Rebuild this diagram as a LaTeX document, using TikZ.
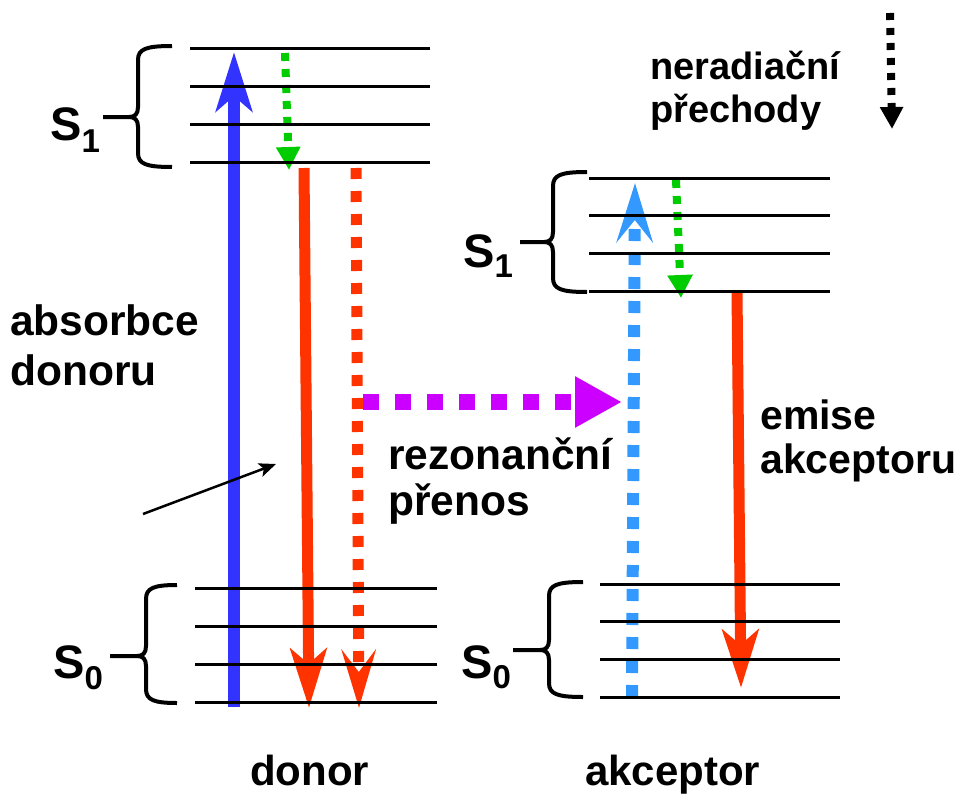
\documentclass[tikz,border=0pt]{standalone}
\usepackage{fontspec}
\setmainfont{Liberation Sans}
\usetikzlibrary{arrows.meta}
\definecolor{cblue}{RGB}{51,51,255}
\definecolor{cred}{RGB}{255,51,0}
\definecolor{cgreen}{RGB}{0,204,0}
\definecolor{cmag}{RGB}{204,0,255}
\definecolor{clblue}{RGB}{51,153,255}
\newcommand{\levbrace}[6]{% xr, xv, xs, yt, ym, yb
  \draw[bracestyle] (#1,#4) .. controls ({#2+8},#4) and (#2,{#4+3}) .. (#2,{#4+14})
    -- (#2,{#5-10}) .. controls (#2,{#5-3}) and ({#2-3},#5) .. ({#2-9},#5) -- (#3,#5);
  \draw[bracestyle] ({#2-9},#5) .. controls ({#2-3},#5) and (#2,{#5+3}) .. (#2,{#5+10})
    -- (#2,{#6-14}) .. controls (#2,{#6-3}) and ({#2+8},#6) .. (#1,#6);
}
\begin{document}
\begin{tikzpicture}[x=1pt,y=-1pt,
  level/.style={line width=3pt},
  bracestyle/.style={line width=4pt, line join=round},
  lbl/.style={font=\fontsize{42}{50}\selectfont\bfseries, inner sep=0pt, align=left, anchor=north west},
  slbl/.style={font=\fontsize{47}{47}\selectfont\bfseries, inner sep=0pt, anchor=base west},
]
\useasboundingbox (0,0) rectangle (965,797);

% ---------- arrows ----------
\coordinate (absS) at (234,707);
\coordinate (absE) at (234,52);
\draw[cblue, line width=12pt, -{Stealth[length=59pt,width=36pt,inset=15pt]}] (absS) -- (absE);

\coordinate (gdS) at (285,53);
\coordinate (gdE) at (289,170);
\draw[cgreen, line width=8pt, dash pattern=on 8pt off 8pt, -{Triangle[length=23pt,width=23pt]}] (gdS) -- (gdE);

\coordinate (rdS) at (304,168);
\coordinate (rdE) at (309,708);
\draw[cred, line width=11pt, -{Stealth[length=59pt,width=36pt,inset=15pt]}] (rdS) -- (rdE);

\coordinate (rtS) at (356,168);
\coordinate (rtE) at (359,708);
\draw[cred, line width=11pt, dash pattern=on 11pt off 12pt, -{Stealth[length=58pt,width=34pt,inset=22pt]}] (rtS) -- (rtE);

\coordinate (mgS) at (363,402);
\coordinate (mgE) at (622,402);
\draw[cmag, line width=16pt, dash pattern=on 16pt off 16pt, -{Triangle[length=47pt,width=48pt]}] (mgS) -- (mgE);

\coordinate (baS) at (632,697);
\coordinate (baE) at (635,183);
\draw[clblue, line width=12pt, dash pattern=on 12pt off 12pt, -{Stealth[length=59pt,width=36pt,inset=22pt]}] (baS) -- (baE);

\coordinate (gaS) at (676,180);
\coordinate (gaE) at (681,298);
\draw[cgreen, line width=8pt, dash pattern=on 8pt off 8pt, -{Triangle[length=23pt,width=24pt]}] (gaS) -- (gaE);

\coordinate (raS) at (737,292);
\coordinate (raE) at (741,688);
\draw[cred, line width=11pt, -{Stealth[length=58pt,width=36pt,inset=15pt]}] (raS) -- (raE);

\coordinate (lgS) at (890,13);
\coordinate (lgE) at (892,129);
\draw[black, line width=8pt, dash pattern=on 7pt off 8pt, -{Triangle[length=22pt,width=22pt]}] (lgS) -- (lgE);

\coordinate (ptS) at (143,514);
\coordinate (ptE) at (276,464);
\draw[black, line width=2.5pt, -{Stealth[length=17pt,width=14pt,inset=4pt]}] (ptS) -- (ptE);

% ---------- levels ----------
\foreach \y in {49,87,124,162} \draw[level] (190,\y) -- (430,\y);
\foreach \y in {588,626,664,702} \draw[level] (195,\y) -- (437,\y);
\foreach \y in {178,215,253,291} \draw[level] (589,\y) -- (830,\y);
\foreach \y in {584,621,659,697} \draw[level] (600,\y) -- (840,\y);

% ---------- braces ----------
\levbrace{172}{138}{103}{46}{117}{167}
\levbrace{587}{553}{520}{172}{242}{292}
\levbrace{177}{146}{110}{585}{656}{703}
\levbrace{583}{549}{513}{582}{650}{697}

% ---------- labels ----------
\node[slbl] (s1d) at (50,140) {S\raisebox{-12pt}{\fontsize{33}{33}\selectfont\bfseries 1}};
\node[slbl] (s1a) at (463,267) {S\raisebox{-10pt}{\fontsize{33}{33}\selectfont\bfseries 1}};
\node[slbl] (s0d) at (53,678) {S\raisebox{-11pt}{\fontsize{33}{33}\selectfont\bfseries 0}};
\node[slbl] (s0a) at (461,678) {S\raisebox{-10pt}{\fontsize{33}{33}\selectfont\bfseries 0}};

\node[lbl, font=\fontsize{42.5}{50}\selectfont\bfseries] (absorb) at (10,304) {absorbce\\donoru};
\node[lbl, font=\fontsize{42.5}{46}\selectfont\bfseries] (rezon) at (388,438) {rezonanční\\přenos};
\node[lbl, font=\fontsize{38}{43}\selectfont\bfseries] (nerad) at (650,51) {neradiační\\přechody};
\node[lbl, font=\fontsize{41}{44}\selectfont\bfseries] (emise) at (760,400) {emise\\akceptoru};
\node[lbl, font=\fontsize{42}{42}\selectfont\bfseries] (donor) at (250,755) {donor};
\node[lbl, font=\fontsize{42}{42}\selectfont\bfseries] (akcep) at (585,755) {akceptor};
\end{tikzpicture}
\end{document}
